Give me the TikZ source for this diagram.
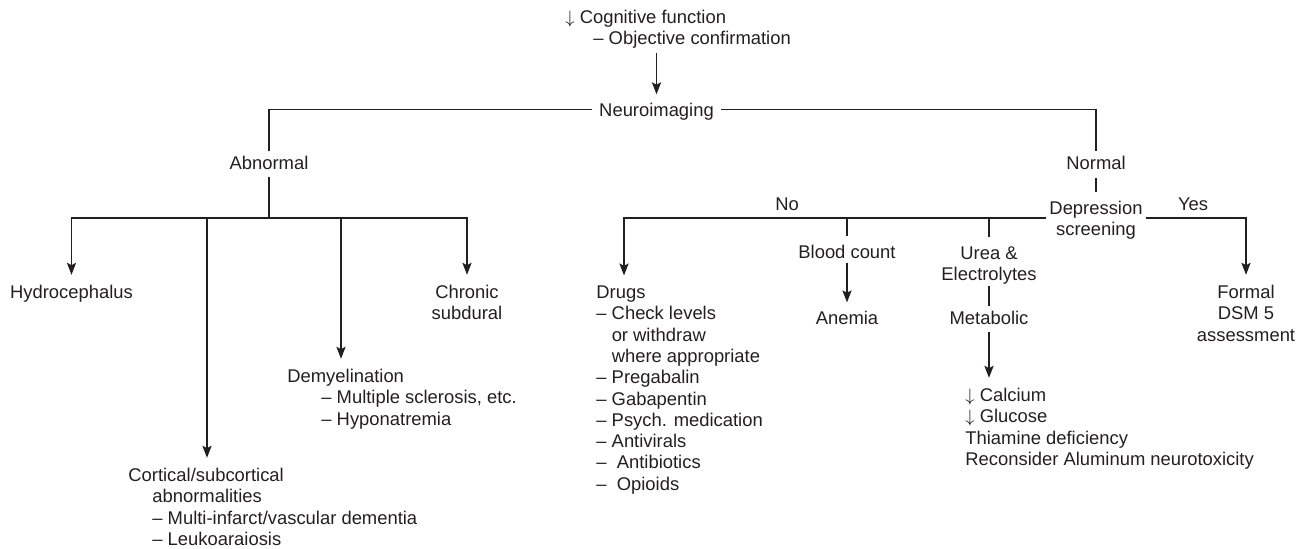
\documentclass[tikz,border=0pt]{standalone}
\usepackage{fontspec}
\setmainfont{Liberation Sans}
\usetikzlibrary{arrows.meta,calc}
\definecolor{ink}{HTML}{231F20}
\newcommand{\dnarr}{$\downarrow$}
\begin{document}
\begin{tikzpicture}[x=0.5pt,y=-0.5pt,
  txt/.style={inner sep=0pt, text=ink, font=\fontsize{9.2}{10.65}\selectfont},
  ml/.style={txt, align=left, anchor=base west},
  mc/.style={txt, align=center, anchor=base},
  ln/.style={draw=ink, line width=0.6pt},
  arr/.style={ln, -{Stealth[length=6pt,width=4.6pt,inset=1.2pt]}, shorten >=5pt},
]
\useasboundingbox (0,0) rectangle (1305,548);

% nodes (multi-line nodes are placed by the baseline of their last line)
\node[ml] (cog) at (565,44.8) {\dnarr\ Cognitive function\\\hspace*{14pt}– Objective confirmation};
\node[mc, inner xsep=3.5pt, text depth=0pt] (neuro) at (656.5,116) {Neuroimaging};
\node[mc] (abn) at (269,169.5) {Abnormal};
\node[mc] (normal) at (1096,169.5) {Normal};
\node[mc] (hyd) at (71.5,298.5) {Hydrocephalus};
\node[mc] (chronic) at (467,319.8) {Chronic\\subdural};
\node[ml] (demy) at (287,425.1) {Demyelination\\\hspace*{17pt}– Multiple sclerosis, etc.\\\hspace*{17pt}– Hyponatremia};
\node[ml] (cort) at (128,545.4) {Cortical/subcortical\\\hspace*{12pt}abnormalities\\\hspace*{12pt}– Multi-infarct/vascular dementia\\\hspace*{12pt}– Leukoaraiosis};
\node[mc, inner xsep=1.5pt] (depr) at (1096,235.8) {Depression\\screening};
\node[mc] (no) at (787,210.5) {No};
\node[mc] (yes) at (1193,210.5) {Yes};
\node[ml] (drugs) at (596,490.2) {Drugs\\– Check levels\\\phantom{–\ }or withdraw\\\phantom{–\ }where appropriate\\– Pregabalin\\– Gabapentin\\– Psych. medication\\– Antivirals\\–\ \ Antibiotics\\–\ \ Opioids};
\node[mc] (blood) at (847,258.5) {Blood count};
\node[mc] (anemia) at (847,324.5) {Anemia};
\node[mc] (urea) at (989,280.8) {Urea \&\\Electrolytes};
\node[mc] (metab) at (989,324.5) {Metabolic};
\node[ml] (mlist) at (965,465.4) {\dnarr\ Calcium\\\dnarr\ Glucose\\Thiamine deficiency\\Reconsider Aluminum neurotoxicity};
\node[mc] (formal) at (1246,341.1) {Formal\\DSM 5\\assessment};

\coordinate (row) at (0,218);
\coordinate (cortin) at ($(cort.north west)+(79,0)$);
\coordinate (demyin) at ($(demy.north west)+(54,0)$);
\coordinate (drugin) at ($(drugs.north west)+(28,0)$);

% connectors
\draw[arr, shorten <=2pt, shorten >=4pt] (cog.south -| neuro.north) -- (neuro.north);
\draw[ln, shorten >=2.2pt] (neuro.west) -| (abn.north);
\draw[ln, shorten >=2.2pt] (neuro.east) -| (normal.north);
\draw[ln, shorten <=3.7pt] (abn.south) -- (abn.south |- row);
\draw[arr] (abn.south |- row) -| (hyd.north);
\draw[arr] (abn.south |- row) -| (chronic.north);
\draw[arr] (cortin |- row) -- (cortin);
\draw[arr] (demyin |- row) -- (demyin);

\draw[ln, shorten <=4.2pt, shorten >=4.5pt] (normal.south) -- (depr.north);
\draw[arr] (depr.west |- row) -| (drugin);
\draw[ln, shorten >=4.2pt] (blood.north |- row) -- (blood.north);
\draw[ln, shorten >=4.7pt] (urea.north |- row) -- (urea.north);
\draw[arr, shorten <=2.2pt, shorten >=4.2pt] (blood.south) -- (anemia.north);
\draw[ln, shorten <=0.3pt, shorten >=2.2pt] (urea.south) -- (metab.north);
\draw[arr, shorten <=3.7pt] (metab.south) -- (metab.south |- mlist.north);
\draw[arr] (depr.east |- row) -| (formal.north);
\end{tikzpicture}
\end{document}
